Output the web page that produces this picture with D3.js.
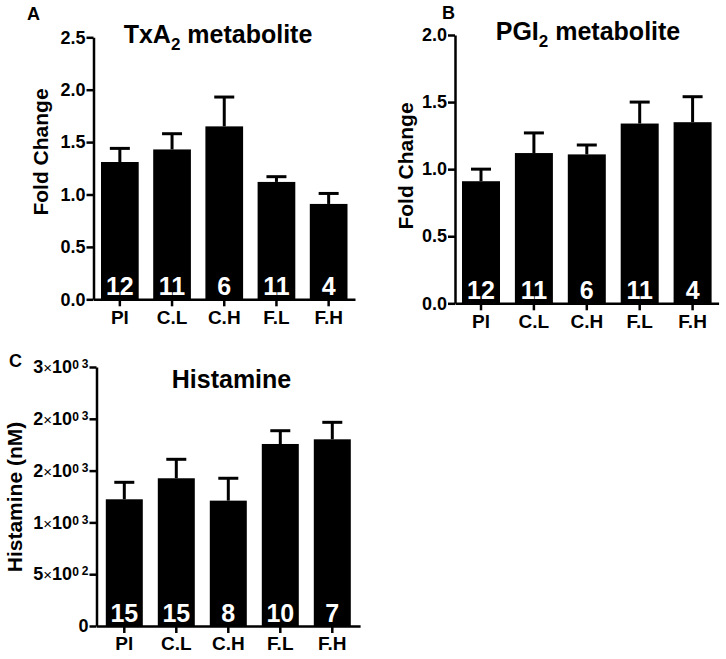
<!DOCTYPE html>
<html>
<head>
<meta charset="utf-8">
<script src="https://cdn.jsdelivr.net/npm/d3@7"></script>
<style>
  html, body { margin: 0; padding: 0; background: #fff; }
  svg { display: block; }
  text { font-family: "Liberation Sans", Arial, sans-serif; font-weight: bold; }
</style>
</head>
<body>
<svg id="chart" width="726" height="659"></svg>
<script>
// ---- data ----
const categories = ["Pl", "C.L", "C.H", "F.L", "F.H"];

const txaMean = [1.31, 1.43, 1.65, 1.12, 0.91];
const txaErr  = [0.13, 0.15, 0.28, 0.05, 0.10];
const txaN    = [12, 11, 6, 11, 4];
const txaTicks = [0, 0.5, 1.0, 1.5, 2.0, 2.5];

const pgiMean = [0.91, 1.12, 1.11, 1.34, 1.35];
const pgiErr  = [0.09, 0.15, 0.07, 0.16, 0.19];
const pgiN    = [12, 11, 6, 11, 4];
const pgiTicks = [0, 0.5, 1.0, 1.5, 2.0];

const histMean = [1223, 1426, 1210, 1757, 1802];
const histErr  = [164, 183, 216, 128, 164];
const histN    = [15, 15, 8, 10, 7];
const histTicks = [0, 500, 1000, 1500, 2000, 2500];

const svg = d3.select("#chart");

function sciLabel(sel) {
  sel.each(function(d) {
    const t = d3.select(this);
    t.text(null);
    if (d === 0) { t.text("0"); return; }
    const e = Math.floor(Math.log10(d));
    const m = Math.round(d / Math.pow(10, e));
    t.append("tspan").text(m);
    t.append("tspan").attr("font-size", 15).attr("font-weight", "normal").text("\u00D7");
    t.append("tspan").text("10");
    t.append("tspan").attr("font-size", 12).attr("dy", -4).text("0");
    t.append("tspan").attr("font-size", 12).attr("dx", 3).attr("dy", -1).text(e);
  });
}

function drawPanel(cfg) {
  const n = cfg.cats.length;
  const right = cfg.left + 2 * cfg.offset + n * cfg.step - (cfg.step - cfg.bw);
  const x = d3.scaleBand().domain(cfg.cats)
    .range([cfg.left, right])
    .paddingInner(1 - cfg.bw / cfg.step)
    .paddingOuter(cfg.offset / cfg.step);
  const y = d3.scaleLinear().domain([0, cfg.max]).range([cfg.yBottom, cfg.yTop]);

  const g = svg.append("g");

  // bars
  g.selectAll("rect.bar").data(cfg.mean).join("rect")
    .attr("class", "bar")
    .attr("x", (d, i) => x(cfg.cats[i]))
    .attr("width", x.bandwidth())
    .attr("y", d => y(d))
    .attr("height", d => y(0) - y(d))
    .attr("fill", "#000");

  // error bars
  const eb = g.selectAll("g.err").data(cfg.mean).join("g").attr("class", "err");
  eb.append("line")
    .attr("x1", (d, i) => x(cfg.cats[i]) + x.bandwidth() / 2)
    .attr("x2", (d, i) => x(cfg.cats[i]) + x.bandwidth() / 2)
    .attr("y1", d => y(d))
    .attr("y2", (d, i) => y(d + cfg.err[i]))
    .attr("stroke", "#000").attr("stroke-width", 3);
  eb.append("line")
    .attr("x1", (d, i) => x(cfg.cats[i]) + x.bandwidth() / 2 - 10)
    .attr("x2", (d, i) => x(cfg.cats[i]) + x.bandwidth() / 2 + 10)
    .attr("y1", (d, i) => y(d + cfg.err[i]))
    .attr("y2", (d, i) => y(d + cfg.err[i]))
    .attr("stroke", "#000").attr("stroke-width", 3);

  // n labels
  g.selectAll("text.n").data(cfg.n).join("text")
    .attr("class", "n")
    .attr("x", (d, i) => x(cfg.cats[i]) + x.bandwidth() / 2)
    .attr("y", y(0) - 4)
    .attr("text-anchor", "middle")
    .attr("font-size", 25)
    .attr("fill", "#fff")
    .text(d => d);

  // y axis
  const ya = d3.axisLeft(y).tickValues(cfg.ticks).tickSize(7).tickPadding(1).tickSizeOuter(0);
  if (!cfg.sci) ya.tickFormat(d3.format(".1f"));
  const yg = g.append("g").attr("transform", `translate(${cfg.left},0)`).call(ya);
  yg.selectAll("text").attr("font-size", 18).attr("fill", "#000")
    .attr("font-family", "'Liberation Sans', Arial, sans-serif").attr("font-weight", "bold");
  if (cfg.sci) yg.selectAll(".tick text").call(sciLabel);

  // x axis
  const xa = d3.axisBottom(x).tickSize(7).tickPadding(4).tickSizeOuter(0);
  const xg = g.append("g").attr("transform", `translate(0,${cfg.yBottom})`).call(xa);
  xg.selectAll("text").attr("font-size", 19).attr("fill", "#000")
    .attr("font-family", "'Liberation Sans', Arial, sans-serif").attr("font-weight", "bold");

  [yg, xg].forEach(a => {
    a.select(".domain").attr("stroke", "#000").attr("stroke-width", 2.5);
    a.selectAll(".tick line").attr("stroke", "#000").attr("stroke-width", 2.5);
  });

  // y label
  g.append("text")
    .attr("transform", `translate(${cfg.ylabX},${cfg.ylabY}) rotate(-90)`)
    .attr("text-anchor", "middle")
    .attr("font-size", 21)
    .text(cfg.ylabel);

  // title
  const t = g.append("text")
    .attr("x", cfg.titleX).attr("y", cfg.titleY)
    .attr("text-anchor", "middle").attr("font-size", 25);
  cfg.title.forEach(p => {
    const s = t.append("tspan").text(p.t);
    if (p.sub) s.attr("font-size", 17).attr("dy", 7);
    if (p.after) s.attr("dy", -7);
  });

  // panel letter
  g.append("text").attr("x", cfg.letterX).attr("y", cfg.letterY)
    .attr("font-size", 18).text(cfg.letter);
}

drawPanel({
  cats: categories, mean: txaMean, err: txaErr, n: txaN, ticks: txaTicks, max: 2.5,
  left: 93.5, offset: 7.5, step: 52.2, bw: 37.7, yBottom: 299.3, yTop: 37.3,
  ylabel: "Fold Change", ylabX: 48, ylabY: 152,
  title: [{t: "TxA"}, {t: "2", sub: true}, {t: " metabolite", after: true}],
  titleX: 218, titleY: 43, letter: "A", letterX: 27, letterY: 20
});

drawPanel({
  cats: categories, mean: pgiMean, err: pgiErr, n: pgiN, ticks: pgiTicks, max: 2.0,
  left: 455, offset: 7, step: 52.9, bw: 38, yBottom: 303.3, yTop: 35,
  ylabel: "Fold Change", ylabX: 413, ylabY: 166,
  title: [{t: "PGI"}, {t: "2", sub: true}, {t: " metabolite", after: true}],
  titleX: 588, titleY: 40, letter: "B", letterX: 442, letterY: 19
});

drawPanel({
  cats: categories, mean: histMean, err: histErr, n: histN, ticks: histTicks, max: 2500, sci: true,
  left: 96.5, offset: 9.3, step: 52, bw: 37, yBottom: 626, yTop: 367,
  ylabel: "Histamine (nM)", ylabX: 22, ylabY: 497,
  title: [{t: "Histamine"}],
  titleX: 231.5, titleY: 388, letter: "C", letterX: 9, letterY: 367
});
</script>
</body>
</html>
